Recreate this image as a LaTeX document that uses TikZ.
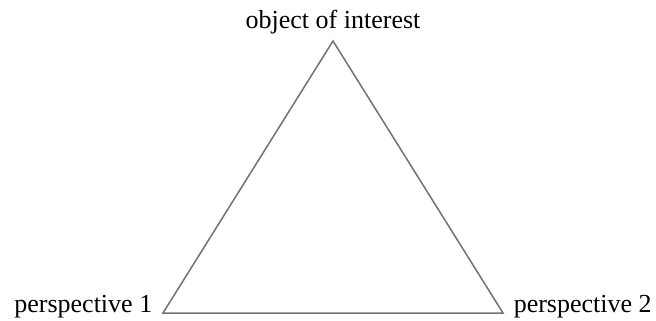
\documentclass[tikz,border=0pt]{standalone}
\usepackage{fontspec}
\setmainfont{Liberation Serif}
\begin{document}
\begin{tikzpicture}[x=1pt,y=-1pt,line width=1.5pt]
\tikzset{lbl/.style={inner sep=0pt,font=\fontsize{26}{30}\selectfont}}
\useasboundingbox (0,0) rectangle (656,321);
% corners of the triangle
\coordinate (apex) at (333,41);
\coordinate (left) at (163,313);
\coordinate (right) at (503,313);
% triangle
\draw[color=black!55,line join=miter] (apex) -- (left) -- (right) -- cycle;
% labels
\node[lbl,anchor=base] (obj) at (333,29) {object of interest};
\node[lbl,anchor=base east] (persp1) at (153,312) {perspective 1};
\node[lbl,anchor=base west] (persp2) at (513,312) {perspective 2};
\end{tikzpicture}
\end{document}
